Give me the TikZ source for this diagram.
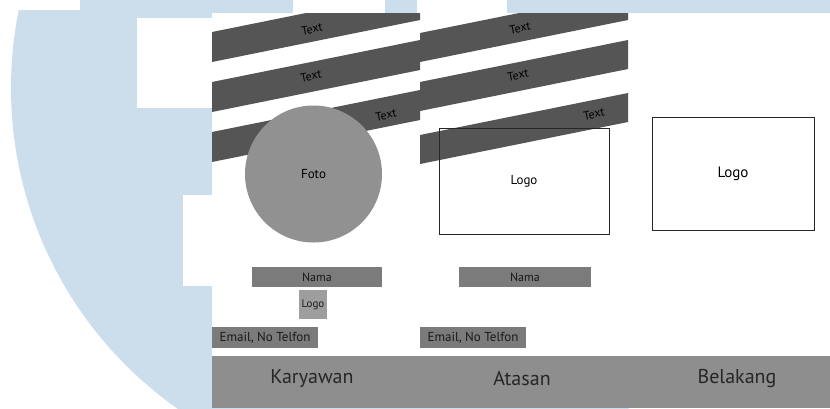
\documentclass[tikz,border=0pt]{standalone}
\usepackage{fontspec}
\setmainfont{PT Sans}
\usepackage{xcolor}
\usepackage{tikz}
\usetikzlibrary{positioning}

\definecolor{wmblue}{HTML}{CCDDEC}
\definecolor{banddark}{HTML}{555555}
\definecolor{fotogray}{HTML}{919191}
\definecolor{bargray}{HTML}{7B7B7B}
\definecolor{smallgray}{HTML}{9E9E9E}
\definecolor{footgray}{HTML}{8E8E8E}

\begin{document}
\begin{tikzpicture}[
    x=1pt, y=-1pt,
    band/.style={fill=banddark},
    bandtext/.style={font=\fontsize{12}{14}\selectfont, rotate=11, inner sep=0pt, text=black},
    bar/.style={fill=bargray, inner sep=0pt, font=\fontsize{12}{14}\selectfont, text=black!90},
    logobox/.style={draw=black!85, line width=1pt, inner sep=0pt, font=\fontsize{13}{15}\selectfont},
    caption/.style={font=\fontsize{20}{24}\selectfont, text=black!85},
]
\useasboundingbox (0,0) rectangle (830,408);

% watermark behind the sheet
\begin{scope}
  \clip (0,0) rectangle (830,408);
  \fill[wmblue] (403,88) circle (392);
  \fill[wmblue] (80,0) rectangle (830,13);
\end{scope}
\fill[white] (0,0) rectangle (80,10);
\fill[white] (293,0) rectangle (385,13);
\fill[white] (417,0) rectangle (507,13);
\fill[white] (137,18) rectangle (212,108);
\fill[white] (183,195) rectangle (212,286);

% sheet
\fill[white] (212,13) rectangle (830,408);

% slanted bands
\begin{scope}
  \clip (212,13) rectangle (830,408);
  \fill[band] (212,32) -- (420,-10) -- (420,20) -- (212,62) -- cycle;
  \fill[band] (212,82) -- (420,40) -- (420,70) -- (212,112) -- cycle;
  \fill[band] (212,132) -- (420,90) -- (420,120) -- (212,162) -- cycle;
  \fill[band] (420,33) -- (628,-9) -- (628,20) -- (420,62) -- cycle;
  \fill[band] (420,82) -- (628,40) -- (628,69) -- (420,111) -- cycle;
  \fill[band] (420,135) -- (628,93) -- (628,122) -- (420,164) -- cycle;
\end{scope}

\node[bandtext] (textA1) at (312,29) {Text};
\node[bandtext] (textA2) at (311,76) {Text};
\node[bandtext] (textA3) at (386,115) {Text};
\node[bandtext] (textB1) at (520,28) {Text};
\node[bandtext] (textB2) at (518,75) {Text};
\node[bandtext] (textB3) at (594,114) {Text};

% Karyawan side
\node[circle, fill=fotogray, minimum size=137pt, inner sep=0pt,
      font=\fontsize{13}{15}\selectfont] (foto) at (313.5,174) {Foto};
\node[bar, minimum width=130pt, minimum height=20pt] (namaA) at (317,277) {Nama};
\node[bar, fill=smallgray, minimum width=28pt, minimum height=29pt,
      font=\fontsize{11}{13}\selectfont, below=3pt of namaA, xshift=-4pt] (logoS) {Logo};
\node[bar, minimum width=106pt, minimum height=21pt,
      font=\fontsize{13}{15}\selectfont] (emailA) at (265,337.5) {Email, No Telfon};

% Atasan side
\node[logobox, minimum width=170pt, minimum height=106pt] (logoB) at (524,181) {Logo};
\node[bar, minimum width=132pt, minimum height=20pt] (namaB) at (525,277) {Nama};
\node[bar, minimum width=106pt, minimum height=21pt,
      font=\fontsize{13}{15}\selectfont] (emailB) at (473,337.5) {Email, No Telfon};

% Belakang side
\node[logobox, minimum width=162pt, minimum height=113pt,
      font=\fontsize{15}{17}\selectfont] (logoC) at (733,173.5) {Logo};

% footer
\fill[footgray] (212,356) rectangle (830,408);
\node[caption] (kary) at (312,379) {Karyawan};
\node[caption] (atas) at (522,379) {Atasan};
\node[caption] (belak) at (737,379) {Belakang};

\end{tikzpicture}
\end{document}
